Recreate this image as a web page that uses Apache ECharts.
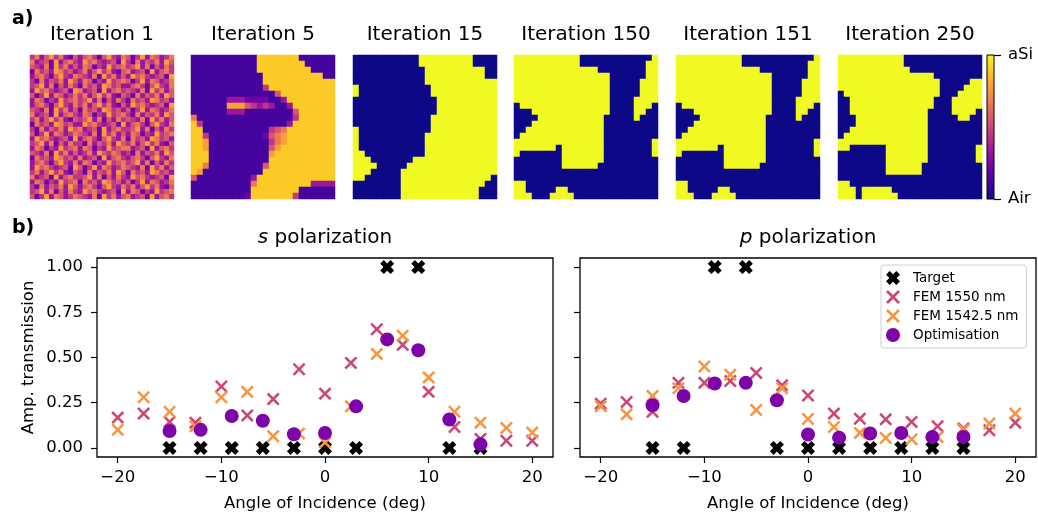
<!DOCTYPE html>
<html>
<head>
<meta charset="UTF-8">
<title>Topology optimisation</title>
<script src="https://cdn.jsdelivr.net/npm/echarts@6/dist/echarts.min.js"></script>
<style>
html,body{margin:0;padding:0;background:#fff;}
#chart{width:1038px;height:518px;}
</style>
</head>
<body>
<div id="chart"></div>
<script>
// ---- panel a) : material maps, one digit per cell (0 = Air ... 9 = aSi) ----
const iterTitles = ['Iteration 1', 'Iteration 5', 'Iteration 15', 'Iteration 150', 'Iteration 151', 'Iteration 250'];

const iter1 = [
  "463574632535642574365247365346","634527356437564345274263546375","543627463536524374564573625364",
  "264537645346357463256345273564","356425743654362746353756434527","426354637536524374565247365346",
  "457362536426453764533564257436","375643452763452735645436274635","524736534646357463254263546375",
  "365243745645736253642645376453","356425743646357463253756434527","543627463526453764535247365346",
  "634527356436524374564263546375","463574632545736253645436274635","264537645337564345273564257436",
  "426354637563452735644573625364","524736534654362746353652437456","375643452735642574362645376453",
  "457362536442635463754635746325","365243745636524374566345273564","543627463534637546534263546375",
  "264537645363452735643564257436","356425743636524374564573625364","375643452752473653465436274635",
  "463574632542635463752645376453","634527356445736253643756434527","365243745626453764535247365346",
  "426354637535642574364635746325","457362536437564345273652437456","524736534654362746356345273564"
];
const iter5 = [
  "111111111118888888111111","111111111118888888811111","111111111118888888881111","111111111111888888888811",
  "111111111111888888888888","111111111111488888888888","111111111111115888888888","111111333222211388888888",
  "111111777543431138888888","111111333111111115888888","611111111111111114888888","841111111111111138888888",
  "881111111111145688888888","884111111111256788888888","887111111111146788888888","887111111111157888888888",
  "888111111111178888888888","888111111111188888888888","886111111111588888888888","871111111111888888888888",
  "511111111138888888888888","111111111168888888883333","111111111188888888111111","111111111288888884111111"
];
const iter15 = [
  "000000000009999999990000","000000000009999999990000","000000000000999999999900","000000000000999999999900",
  "000000000000999999999999","900000000000099999999999","900000000000099999999999","000000000000009999999999",
  "000000000000009999999999","000000000000009999999999","000000000000099999999999","000000000000099999999999",
  "900000000000099999999999","900000000000999999999999","900000000000999999999999","900000000000999999999999",
  "990000000000999999999999","999000000099999999999999","999900000999999999999999","999000009999999999999999",
  "990000009999999999999990","000000009999999999999900","000000009999999999999000","000000009999999999999000"
];
const iter150 = [
  "999999999990000000000009","999999999990000000000099","999999999999990000000099","999999999999999900000099",
  "999999999999999900000999","999999999999999900000999","999999999999999900000999","999999999999999900009999",
  "099999999999999900009990","000999999999999900009900","000099999999999000009000","000999999999999000000000",
  "009999999999999000000000","099999999999999000000000","999999999999999000000009","999999909999999000000009",
  "900000009999999000000009","000000009999999000000000","000000009999990000000000","000000000000000000000000",
  "000000000000000000000000","990000000000000000000000","990000099000000000000000","999000999900000000000000"
];
const iter151 = [
  "999999999990000000000009","999999999990000000000099","999999999999990000000099","999999999999999900000099",
  "999999999999999900000999","999999999999999900000999","999999999999999900000999","999999999999999900009999",
  "099999999999999900009990","000999999999999900009900","000099999999999000009000","000999999999999000000000",
  "009999999999999000000000","099999999999999000000000","999999999999999000000009","999999909999999000000009",
  "900000009999999000000009","000000009999999000000000","000000009999990000000000","000000000000000000000000",
  "000000000000000000000000","990000000000000000000000","990000099000000000000000","999000999900000000000000"
];
const iter250 = [
  "999999999990000000000000","999999999990000000000000","999999999999000000000000","999999999999999900000000",
  "999999999999999990000099","999999999999999990000999","099999999999999990009999","009999999999999900099999",
  "009999999999999900099999","009999999999999000099990","000999999999999000009900","000999999999999000000000",
  "009999999999999000000000","099999999999999000000000","999999999999999000000000","990000009999999000000009",
  "000000009999999000000009","000000009999999000000009","000000009999990000000000","000000009999990000000000",
  "000000000000000000000000","990000000000000000000000","999099999000000000000000","999099999900000000000000"
];

// ---- panel b) : amplitude transmission vs angle ----
const targetAngles = [-15, -12, -9, -6, -3, 0, 3, 6, 9, 12, 15];
const targetS = [0, 0, 0, 0, 0, 0, 0, 1, 1, 0, 0];
const targetP = [0, 0, 1, 1, 0, 0, 0, 0, 0, 0, 0];

const femAngles = [-20, -17.5, -15, -12.5, -10, -7.5, -5, -2.5, 0, 2.5, 5, 7.5, 10, 12.5, 15, 17.5, 20];
const fem1550S = [0.168, 0.19, 0.144, 0.14, 0.34, 0.18, 0.27, 0.435, 0.30, 0.47, 0.656, 0.57, 0.31, 0.116, 0.05, 0.04, 0.04];
const fem1542S = [0.10, 0.28, 0.20, 0.12, 0.28, 0.31, 0.065, 0.08, 0.03, 0.23, 0.52, 0.62, 0.39, 0.20, 0.14, 0.11, 0.085];
const fem1550P = [0.245, 0.254, 0.20, 0.36, 0.36, 0.37, 0.415, 0.346, 0.29, 0.19, 0.162, 0.158, 0.144, 0.12, 0.107, 0.098, 0.14];
const fem1542P = [0.23, 0.186, 0.287, 0.33, 0.45, 0.405, 0.21, 0.33, 0.16, 0.116, 0.083, 0.055, 0.048, 0.06, 0.10, 0.135, 0.19];

const optAngles = [-15, -12, -9, -6, -3, 0, 3, 6, 9, 12, 15];
const optS = [0.094, 0.10, 0.177, 0.15, 0.076, 0.083, 0.23, 0.60, 0.54, 0.157, 0.02];
const optP = [0.236, 0.287, 0.356, 0.36, 0.264, 0.074, 0.057, 0.08, 0.083, 0.061, 0.061];

const xTicks = [-20, -10, 0, 10, 20];
const yTicks = [0, 0.25, 0.5, 0.75, 1];

// ---- styling ----
const FONT = 'DejaVu Sans';
const plasma = ['#0d0887','#41049d','#6a00a8','#8f0da4','#b12a90','#cc4778','#e16462','#f2844b','#fca636','#fcce25','#f0f921'];
const thinX = 'path://M0,14L14,0L50,36L86,0L100,14L64,50L100,86L86,100L50,64L14,100L0,86L36,50Z';
const boldX = 'path://M0,26L26,0L50,24L74,0L100,26L76,50L100,74L74,100L50,76L26,100L0,74L24,50Z';

const images = [iter1, iter5, iter15, iter150, iter151, iter250];
const imgLeft = [30, 191, 353, 514, 676, 838];
const imgTop = 55, imgSize = 144;

const grids = [], xAxes = [], yAxes = [], series = [], graphics = [];

images.forEach((rows, i) => {
  const nr = rows.length, nc = rows[0].length;
  grids.push({left: imgLeft[i], top: imgTop, width: imgSize, height: imgSize});
  xAxes.push({gridIndex: i, type: 'category', show: false, data: Array.from({length: nc}, (_, k) => k)});
  yAxes.push({gridIndex: i, type: 'category', show: false, inverse: true, data: Array.from({length: nr}, (_, k) => k)});
  const data = [];
  rows.forEach((row, r) => {
    for (let c = 0; c < row.length; c++) data.push([c, r, +row[c]]);
  });
  series.push({type: 'heatmap', xAxisIndex: i, yAxisIndex: i, data: data, silent: true, progressive: 0, emphasis: {disabled: true}});
  graphics.push({type: 'text', x: imgLeft[i] + imgSize / 2, y: 35,
    style: {text: iterTitles[i], fontSize: 20, fontFamily: FONT, fill: '#000', align: 'center', verticalAlign: 'middle'}});
});

// colorbar (grid 6)
grids.push({left: 987, top: 55, width: 7, height: 144, show: true, borderColor: '#000', borderWidth: 1,
  backgroundColor: {type: 'linear', x: 0, y: 1, x2: 0, y2: 0,
    colorStops: plasma.map((c, k) => ({offset: k / (plasma.length - 1), color: c}))}});
xAxes.push({gridIndex: 6, type: 'value', show: false, min: 0, max: 1});
yAxes.push({gridIndex: 6, type: 'value', min: 0, max: 1, interval: 1, position: 'right',
  axisLine: {show: false, onZero: false}, splitLine: {show: false},
  axisTick: {show: true, length: 7, lineStyle: {color: '#000', width: 1.2}},
  axisLabel: {margin: 14, fontSize: 16.5, fontFamily: FONT, color: '#000', formatter: v => v === 1 ? 'aSi' : 'Air'}});

// scatter panels (grids 7 and 8)
const plotLeft = [97, 580];
plotLeft.forEach((left, j) => {
  const g = 7 + j;
  grids.push({left: left, top: 258, width: 456, height: 199, show: true, borderColor: '#000', borderWidth: 1.3});
  xAxes.push({gridIndex: g, type: 'value', min: -22, max: 22, position: 'bottom',
    axisLine: {show: false, onZero: false}, splitLine: {show: false},
    axisTick: {show: true, length: 6, customValues: xTicks, lineStyle: {color: '#000', width: 1.2}},
    axisLabel: {customValues: xTicks, margin: 12, fontSize: 16.5, fontFamily: FONT, color: '#000',
      formatter: v => v < 0 ? '\u2212' + Math.abs(v) : String(v)},
    name: 'Angle of Incidence (deg)', nameLocation: 'middle', nameGap: 38,
    nameTextStyle: {fontSize: 16.5, fontFamily: FONT, color: '#000'}});
  yAxes.push({gridIndex: g, type: 'value', min: -0.05, max: 1.05, position: 'left',
    axisLine: {show: false, onZero: false}, splitLine: {show: false},
    axisTick: {show: true, length: 6, customValues: yTicks, lineStyle: {color: '#000', width: 1.2}},
    axisLabel: {show: j === 0, customValues: yTicks, margin: 14, fontSize: 16.5, fontFamily: FONT, color: '#000',
      formatter: v => v.toFixed(2)},
    name: j === 0 ? 'Amp. transmission' : '', nameLocation: 'middle', nameGap: 60, nameRotate: 90,
    nameTextStyle: {fontSize: 16.5, fontFamily: FONT, color: '#000'}});
});

function scatter(name, xs, ys, g, symbol, size, color) {
  return {type: 'scatter', name: name, xAxisIndex: g, yAxisIndex: g, silent: true,
    data: xs.map((x, k) => [x, ys[k]]), symbol: symbol, symbolSize: size,
    itemStyle: {color: color, opacity: 1}};
}
const panels = [[targetS, fem1550S, fem1542S, optS], [targetP, fem1550P, fem1542P, optP]];
panels.forEach((p, j) => {
  const g = 7 + j;
  series.push(scatter('Target', targetAngles, p[0], g, boldX, 14, '#000'));
  series.push(scatter('FEM 1550 nm', femAngles, p[1], g, thinX, 13, '#cc4778'));
  series.push(scatter('FEM 1542.5 nm', femAngles, p[2], g, thinX, 13, '#f89540'));
  series.push(scatter('Optimisation', optAngles, p[3], g, 'circle', 14, '#7e03a8'));
});

graphics.push({type: 'text', x: 12, y: 19, style: {text: 'a)', fontSize: 19, fontWeight: 'bold', fontFamily: FONT, fill: '#000', align: 'left', verticalAlign: 'middle'}});
graphics.push({type: 'text', x: 12, y: 228, style: {text: 'b)', fontSize: 19, fontWeight: 'bold', fontFamily: FONT, fill: '#000', align: 'left', verticalAlign: 'middle'}});
[['s', 325], ['p', 808]].forEach(([pol, cx]) => {
  graphics.push({type: 'text', x: cx, y: 238, style: {text: '{it|' + pol + '} polarization',
    rich: {it: {fontStyle: 'italic', fontSize: 20, fontFamily: FONT, fill: '#000'}},
    fontSize: 20, fontFamily: FONT, fill: '#000', align: 'center', verticalAlign: 'middle'}});
});

const chart = echarts.init(document.getElementById('chart'));
chart.setOption({
  animation: false,
  backgroundColor: '#fff',
  grid: grids,
  xAxis: xAxes,
  yAxis: yAxes,
  visualMap: {type: 'continuous', show: false, min: 0, max: 9, seriesIndex: [0, 1, 2, 3, 4, 5],
    inRange: {color: plasma}},
  legend: {
    left: 881, top: 265, orient: 'vertical', selectedMode: false,
    padding: [6, 8, 6, 5], itemGap: 5, itemWidth: 30, itemHeight: 14,
    borderColor: '#d0d0d0', borderWidth: 1, borderRadius: 3, backgroundColor: 'rgba(255,255,255,0.8)',
    textStyle: {fontSize: 13.5, fontFamily: FONT, color: '#000'},
    data: [
      {name: 'Target', icon: boldX},
      {name: 'FEM 1550 nm', icon: thinX},
      {name: 'FEM 1542.5 nm', icon: thinX},
      {name: 'Optimisation', icon: 'circle'}
    ]
  },
  graphic: graphics,
  series: series
});
</script>
</body>
</html>
